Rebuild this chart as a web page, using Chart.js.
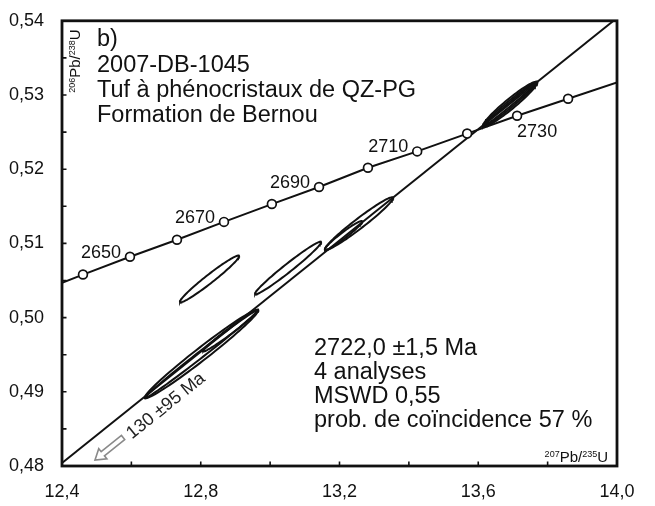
<!DOCTYPE html>
<html><head><meta charset="utf-8">
<script src="https://cdn.jsdelivr.net/npm/chart.js@4/dist/chart.umd.min.js"></script>
<style>html,body{margin:0;padding:0;background:#fff}canvas{display:block}</style>
</head><body>
<canvas id="c" width="655" height="506"></canvas>
<script>
// ---- tick values ----
const xTicks = [12.4, 12.8, 13.2, 13.6, 14.0];
const xMinorTicks = [12.6, 13.0, 13.4, 13.8];
const yTicks = [0.48, 0.49, 0.50, 0.51, 0.52, 0.53, 0.54];
const yMinorTicks = [0.485, 0.495, 0.505, 0.515, 0.525, 0.535];

// ---- concordia ----
const concordiaAges = [null, 2640, 2650, 2660, 2670, 2680, 2690, 2700, 2710, 2720, 2730, 2740, null];
const concordiaX = [12.4, 12.4605, 12.596, 12.7315, 12.867, 13.005, 13.141, 13.282, 13.424, 13.568, 13.712, 13.859, 14.0];
const concordiaY = [0.5047, 0.5058, 0.5082, 0.5105, 0.5129, 0.5153, 0.5176, 0.5202, 0.5224, 0.5248, 0.5272, 0.5295, 0.5317];
const concordiaLabels = ['2650', '2670', '2690', '2710', '2730'];

// ---- discordia ----
const discordiaX = [12.4, 13.99];
const discordiaY = [0.4804, 0.54];

// ---- error ellipses: centre, sigma x, sigma y, correlation ----
const ellipseCx  = [12.8253, 13.0516, 13.2562, 13.2116, 12.8022, 12.8022, 12.8858, 13.6916, 13.6916, 13.6916];
const ellipseCy  = [0.50521, 0.50668, 0.51266, 0.51107, 0.4951, 0.4951, 0.49823, 0.52876, 0.52876, 0.52876];
const ellipseSx  = [0.0853, 0.0953, 0.0985, 0.0536, 0.1634, 0.1634, 0.0796, 0.0783, 0.0783, 0.0783];
const ellipseSy  = [0.00315, 0.003547, 0.003564, 0.00194, 0.005965, 0.005965, 0.002807, 0.003033, 0.003033, 0.003033];
const ellipseRho = [0.974, 0.980, 0.972, 0.964, 0.984, 0.996, 0.984, 0.958, 0.982, 0.995];

// ---- texts ----
const headerLines = ['b)', '2007-DB-1045', 'Tuf à phénocristaux de QZ-PG', 'Formation de Bernou'];
const resultLines = ['2722,0 ±1,5 Ma', '4 analyses', 'MSWD 0,55', 'prob. de coïncidence 57 %'];
const interceptLabel = '130 ±95 Ma';
const yAxisLabel = [['206', true], ['Pb/', false], ['238', true], ['U', false]];
const xAxisLabel = [['207', true], ['Pb/', false], ['235', true], ['U', false]];

const FONT = "'Liberation Sans', Arial, sans-serif";
const INK = '#111';

function ellipsePoints(i) {
  const pts = [];
  const n = 90;
  const r = ellipseRho[i], q = Math.sqrt(1 - r * r);
  for (let k = 0; k <= n; k++) {
    const t = 2 * Math.PI * k / n;
    pts.push({
      x: ellipseCx[i] + ellipseSx[i] * Math.cos(t),
      y: ellipseCy[i] + ellipseSy[i] * (r * Math.cos(t) + q * Math.sin(t))
    });
  }
  return pts;
}

const datasets = [];
datasets.push({
  label: 'concordia',
  data: concordiaX.map((x, i) => ({ x, y: concordiaY[i] })),
  showLine: true, borderColor: INK, borderWidth: 2, tension: 0,
  pointRadius: concordiaAges.map(a => a === null ? 0 : 4.4),
  pointBackgroundColor: '#fff', pointBorderColor: INK, pointBorderWidth: 1.7
});
datasets.push({
  label: 'discordia',
  data: discordiaX.map((x, i) => ({ x, y: discordiaY[i] })),
  showLine: true, borderColor: INK, borderWidth: 2, pointRadius: 0
});
ellipseCx.forEach((_, i) => datasets.push({
  label: 'e' + i, data: ellipsePoints(i), showLine: true,
  borderColor: INK, borderWidth: 2, pointRadius: 0, tension: 0, fill: false
}));

function drawLabelParts(ctx, parts, x, y, big, small, align) {
  let w = 0;
  parts.forEach(([t, sup]) => { ctx.font = (sup ? small : big) + 'px ' + FONT; w += ctx.measureText(t).width; });
  let cx = align === 'right' ? x - w : x;
  parts.forEach(([t, sup]) => {
    ctx.font = (sup ? small : big) + 'px ' + FONT;
    ctx.fillText(t, cx, sup ? y - big * 0.36 : y);
    cx += ctx.measureText(t).width;
  });
}

const overlay = {
  id: 'overlay',
  afterDatasetsDraw(chart) {
    const { ctx, chartArea: a, scales: { x, y } } = chart;
    ctx.save();
    ctx.strokeStyle = INK; ctx.fillStyle = INK;
    // inward ticks
    ctx.lineWidth = 1.6;
    ctx.beginPath();
    [...xTicks, ...xMinorTicks].forEach(v => {
      const px = x.getPixelForValue(v);
      ctx.moveTo(px, a.bottom); ctx.lineTo(px, a.bottom - 4.5);
    });
    [...yTicks, ...yMinorTicks].forEach(v => {
      const py = y.getPixelForValue(v);
      ctx.moveTo(a.left, py); ctx.lineTo(a.left + 4.5, py);
    });
    ctx.stroke();
    // frame
    ctx.lineWidth = 2.8;
    ctx.strokeRect(a.left, a.top, a.right - a.left, a.bottom - a.top);

    // concordia labels
    ctx.font = '18px ' + FONT;
    ctx.textBaseline = 'alphabetic';
    concordiaLabels.forEach(lbl => {
      const i = concordiaAges.indexOf(Number(lbl));
      const px = x.getPixelForValue(concordiaX[i]);
      const py = y.getPixelForValue(concordiaY[i]);
      if (lbl === '2730') {
        ctx.textAlign = 'left'; ctx.fillText(lbl, px, py + 21);
      } else {
        ctx.textAlign = 'right'; ctx.fillText(lbl, px - 9, py + 1);
      }
    });

    // header text
    ctx.textAlign = 'left';
    ctx.font = '23.5px ' + FONT;
    const hb = [46, 72, 97, 122];
    headerLines.forEach((t, i) => ctx.fillText(t, a.left + 35, hb[i]));
    // results text
    const rb = [355, 379, 403, 427];
    resultLines.forEach((t, i) => ctx.fillText(t, 314, rb[i]));

    // axis labels
    ctx.textAlign = 'left';
    drawLabelParts(ctx, xAxisLabel, a.right - 9, a.bottom - 4, 15, 9, 'right');
    ctx.save();
    ctx.translate(a.left + 18, a.top + 72);
    ctx.rotate(-Math.PI / 2);
    drawLabelParts(ctx, yAxisLabel, 0, 0, 15, 9, 'left');
    ctx.restore();

    // discordia angle
    const x0 = x.getPixelForValue(discordiaX[0]), y0 = y.getPixelForValue(discordiaY[0]);
    const x1 = x.getPixelForValue(discordiaX[1]), y1 = y.getPixelForValue(discordiaY[1]);
    const ang = Math.atan2(y1 - y0, x1 - x0);

    // intercept label
    ctx.save();
    ctx.translate(a.left + 104, a.bottom - 60);
    ctx.rotate(ang);
    ctx.font = '18px ' + FONT;
    ctx.fillStyle = '#222';
    ctx.textAlign = 'center'; ctx.textBaseline = 'middle';
    ctx.fillText(interceptLabel, 0, 0);
    ctx.restore();

    // hollow arrow pointing to lower intercept
    ctx.save();
    ctx.translate(a.left + 33, a.bottom - 6);
    ctx.rotate(ang);
    ctx.beginPath();
    ctx.moveTo(0, 0);
    ctx.lineTo(10, -6.5); ctx.lineTo(10, -2.6); ctx.lineTo(36, -2.6);
    ctx.lineTo(36, 2.6); ctx.lineTo(10, 2.6); ctx.lineTo(10, 6.5);
    ctx.closePath();
    ctx.fillStyle = '#fff'; ctx.fill();
    ctx.strokeStyle = '#8a8a8a'; ctx.lineWidth = 1.6; ctx.stroke();
    ctx.restore();

    ctx.restore();
  }
};

new Chart(document.getElementById('c'), {
  type: 'scatter',
  data: { datasets },
  options: {
    responsive: false, animation: false, devicePixelRatio: 1,
    layout: { padding: { top: 15, right: 38, left: 0, bottom: 0 } },
    plugins: { legend: { display: false }, tooltip: { enabled: false } },
    scales: {
      x: {
        type: 'linear', min: 12.4, max: 14.0,
        afterBuildTicks: s => { s.ticks = xTicks.map(v => ({ value: v })); },
        afterFit: s => { s.height = 40; },
        grid: { display: false }, border: { display: false },
        ticks: { color: INK, font: { size: 18, family: FONT }, padding: 7, maxRotation: 0,
          callback: v => v.toFixed(1).replace('.', ',') }
      },
      y: {
        type: 'linear', min: 0.48, max: 0.54,
        afterBuildTicks: s => { s.ticks = yTicks.map(v => ({ value: v })); },
        afterFit: s => { s.width = 62; },
        grid: { display: false }, border: { display: false },
        ticks: { color: INK, font: { size: 18, family: FONT }, padding: 10,
          callback: v => v.toFixed(2).replace('.', ',') }
      }
    }
  },
  plugins: [overlay]
});
</script>
</body></html>
